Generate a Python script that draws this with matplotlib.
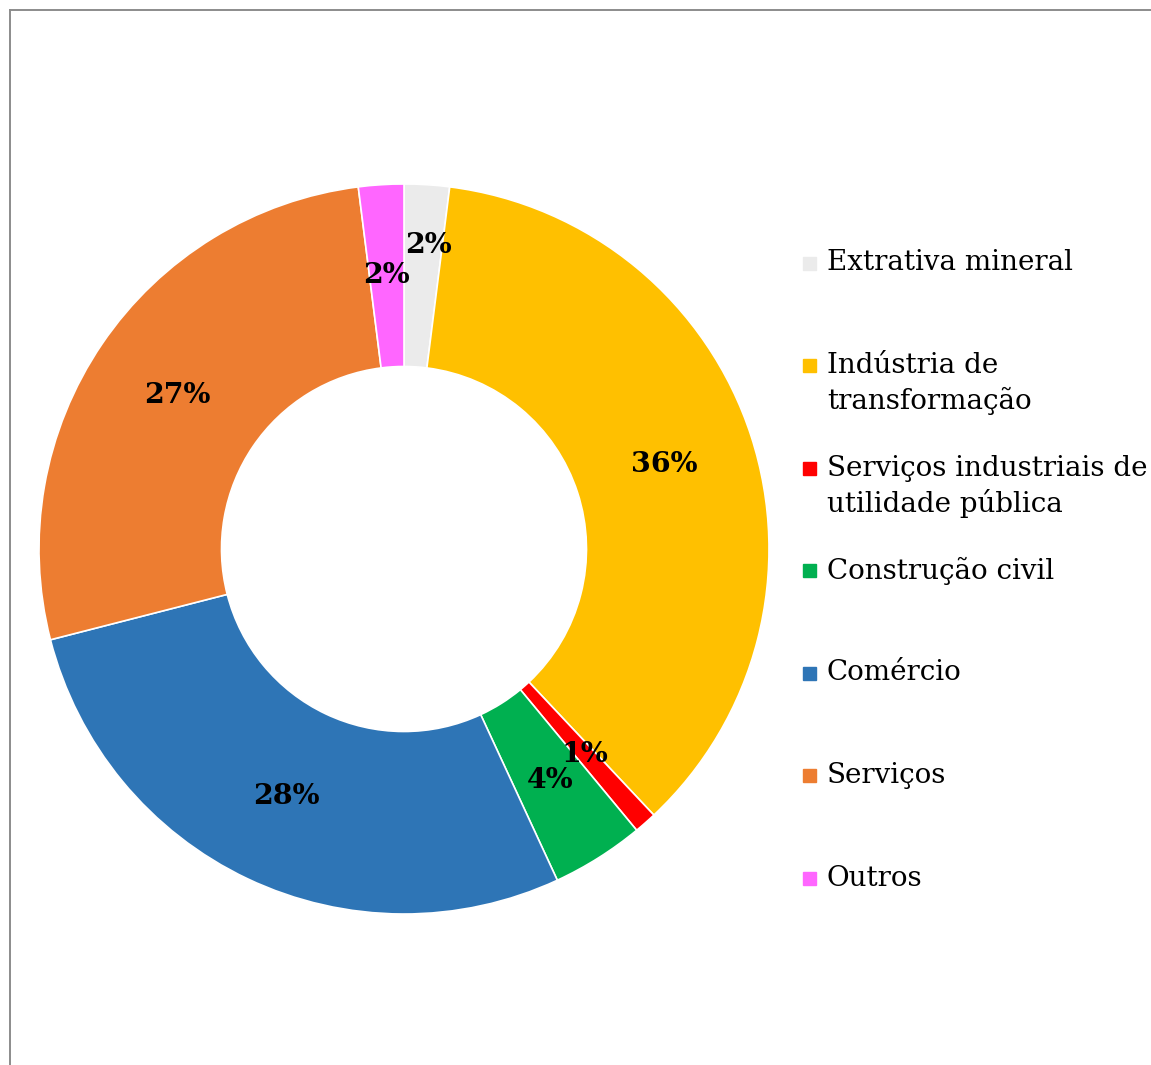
import numpy as np
import matplotlib
matplotlib.use("Agg")
import matplotlib.pyplot as plt
from matplotlib.patches import Rectangle
from matplotlib.lines import Line2D

# sector shares (%)
labels = [
    "Extrativa mineral",
    "Indústria de\ntransformação",
    "Serviços industriais de\nutilidade pública",
    "Construção civil",
    "Comércio",
    "Serviços",
    "Outros",
]
values = [2.0, 36.0, 1.0, 4.1, 27.9, 27.0, 2.0]
pct_text = ["2%", "36%", "1%", "4%", "28%", "27%", "2%"]
colors = ["#EBEBEB", "#FFC000", "#FF0000", "#00B050", "#2E75B6", "#ED7D31", "#FF66FF"]

plt.rcParams["font.family"] = ["DejaVu Serif"]

W, H = 1151, 1065
fig = plt.figure(figsize=(W / 100, H / 100), dpi=100)

# thin frame, left and top only
fig.add_artist(Line2D([10 / W, 10 / W], [0, 1 - 10 / H], color="#8C8C8C", lw=1.4))
fig.add_artist(Line2D([10 / W, 1], [1 - 10 / H, 1 - 10 / H], color="#8C8C8C", lw=1.4))

cx, cy, r = 404, 549, 365
ax = fig.add_axes([(cx - r) / W, (H - cy - r) / H, 2 * r / W, 2 * r / H])
wedges, _ = ax.pie(
    values,
    colors=colors,
    startangle=90,
    counterclock=False,
    radius=1.0,
    wedgeprops=dict(width=0.5, edgecolor="white", linewidth=1.2),
)
ax.set_xlim(-1, 1)
ax.set_ylim(-1, 1)
ax.set_aspect("equal")
ax.axis("off")

# percentage labels at the middle of the ring
cum = np.cumsum([0] + values)
total = sum(values)
for i, w in enumerate(wedges):
    mid = 90 - 360 * (cum[i] + values[i] / 2) / total
    dist = 0.835 if i == 0 else 0.75
    shift = -1 if i == 0 else 0
    ax.text(
        dist * np.cos(np.radians(mid + shift)),
        dist * np.sin(np.radians(mid + shift)),
        pct_text[i],
        ha="center",
        va="center",
        fontsize=20.5,
        fontweight="bold",
        color="black",
    )

# legend drawn by hand so the marker sits on the first line
for i, lab in enumerate(labels):
    y = 263 + 102.5 * i
    fig.add_artist(
        Rectangle((803 / W, (H - y - 6.5) / H), 13 / W, 13 / H,
                  color=colors[i], transform=fig.transFigure)
    )
    for k, line in enumerate(lab.split("\n")):
        fig.text(827 / W, (H - y - 35 * k) / H, line, ha="left", va="center",
                 fontsize=20, color="black")

fig.savefig("out.png", dpi=100)
